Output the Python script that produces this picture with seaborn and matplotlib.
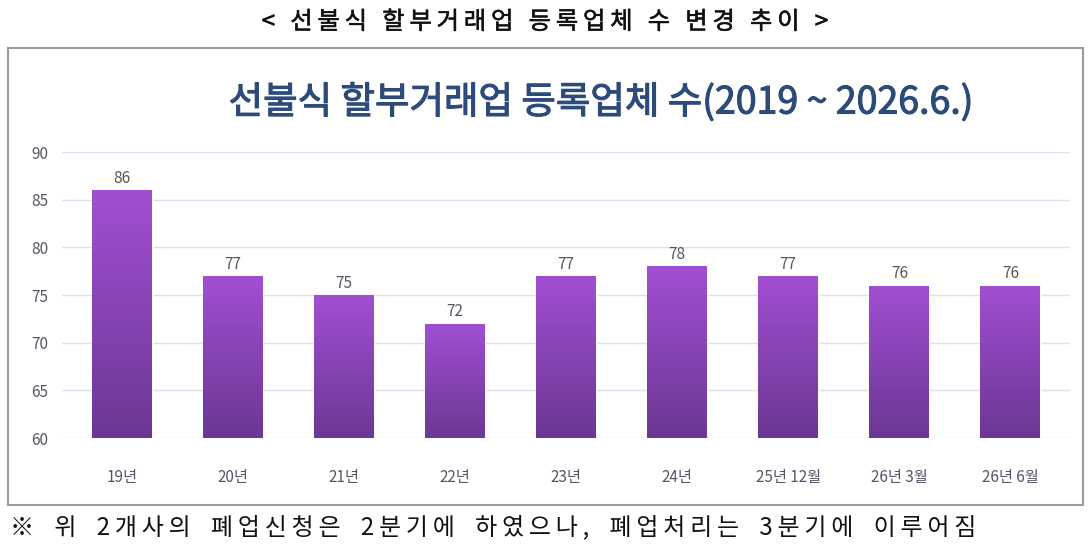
import numpy as np
import pandas as pd
import seaborn as sns
import matplotlib.pyplot as plt
import matplotlib.patheffects as pe
from matplotlib.patches import Rectangle
from matplotlib.colors import LinearSegmentedColormap

# data
periods = ["19년", "20년", "21년", "22년", "23년", "24년", "25년 12월", "26년 3월", "26년 6월"]
counts = [86, 77, 75, 72, 77, 78, 77, 76, 76]
y_ticks = [60, 65, 70, 75, 80, 85, 90]

header = "< 선불식 할부거래업 등록업체 수 변경 추이 >"
title = "선불식 할부거래업 등록업체 수(2019 ~ 2026.6.)"
note = "※ 위 2개사의 폐업신청은 2분기에 하였으나, 폐업처리는 3분기에 이루어짐"


def spaced(s, gap=" "):
    # loose letter spacing like the screenshot font
    words = ["\u2009".join(w) for w in s.split(" ")]
    return ("\u2009" + gap + "\u2009").join(words)


df = pd.DataFrame({"period": periods, "count": counts})

sns.set_style("white")
plt.rcParams['font.family'] = ['Noto Sans CJK KR', 'DejaVu Sans']

fig = plt.figure(figsize=(10.91, 5.45), dpi=100)
ax = fig.add_axes([0.0568, 0.1963, 0.9242, 0.5247])

sns.barplot(data=df, x="period", y="count", color="#8a43b8", width=0.54,
            ax=ax, zorder=3)
ax.set_ylim(60, 90)
ax.set_yticks(y_ticks)
ax.set_xlim(-0.54, len(periods) - 0.46)

# vertical gradient on each bar
grad = LinearSegmentedColormap.from_list("bar", ["#6c3793", "#a14fd2"])
for p in ax.patches:
    x0, w = p.get_x(), p.get_width()
    h = p.get_height()
    p.set_facecolor("none")
    img = ax.imshow(np.linspace(0, 1, 256).reshape(-1, 1), cmap=grad, origin="lower",
                    extent=[x0, x0 + w, 60, h], aspect="auto", zorder=3)
    img.set_clip_path(p)
    ax.text(x0 + w / 2, h + 0.35, str(int(h)), ha="center", va="bottom",
            fontsize=11, color="#555560", zorder=4)

ax.grid(axis="y", color="#dedff0", linewidth=1, zorder=0)
for s in ax.spines.values():
    s.set_visible(False)
ax.tick_params(length=0, labelsize=11, colors="#555566")
ax.tick_params(axis="x", pad=22)
ax.tick_params(axis="y", pad=10)
ax.set_xlabel("")
ax.set_ylabel("")

# outer frame
fig.patches.append(Rectangle((8 / 1091, 40 / 545), 1075 / 1091, 457 / 545,
                             transform=fig.transFigure, fill=False,
                             edgecolor="#9a9a9a", linewidth=1.5))

fig.text(0.5, 1 - 22 / 545, spaced(header), ha="center", va="center", fontsize=17.5,
         color="#111111", path_effects=[pe.withStroke(linewidth=0.4, foreground="#111111")])
fig.text(0.551, 1 - 103 / 545, title, ha="center", va="center", fontsize=27,
         color="#2c4a7a", path_effects=[pe.withStroke(linewidth=0.8, foreground="#2c4a7a")])
fig.text(10 / 1091, 1 - 527 / 545, spaced(note, "  "), ha="left", va="center",
         fontsize=17.3, color="#111111")

fig.savefig("out.png", dpi=100)
